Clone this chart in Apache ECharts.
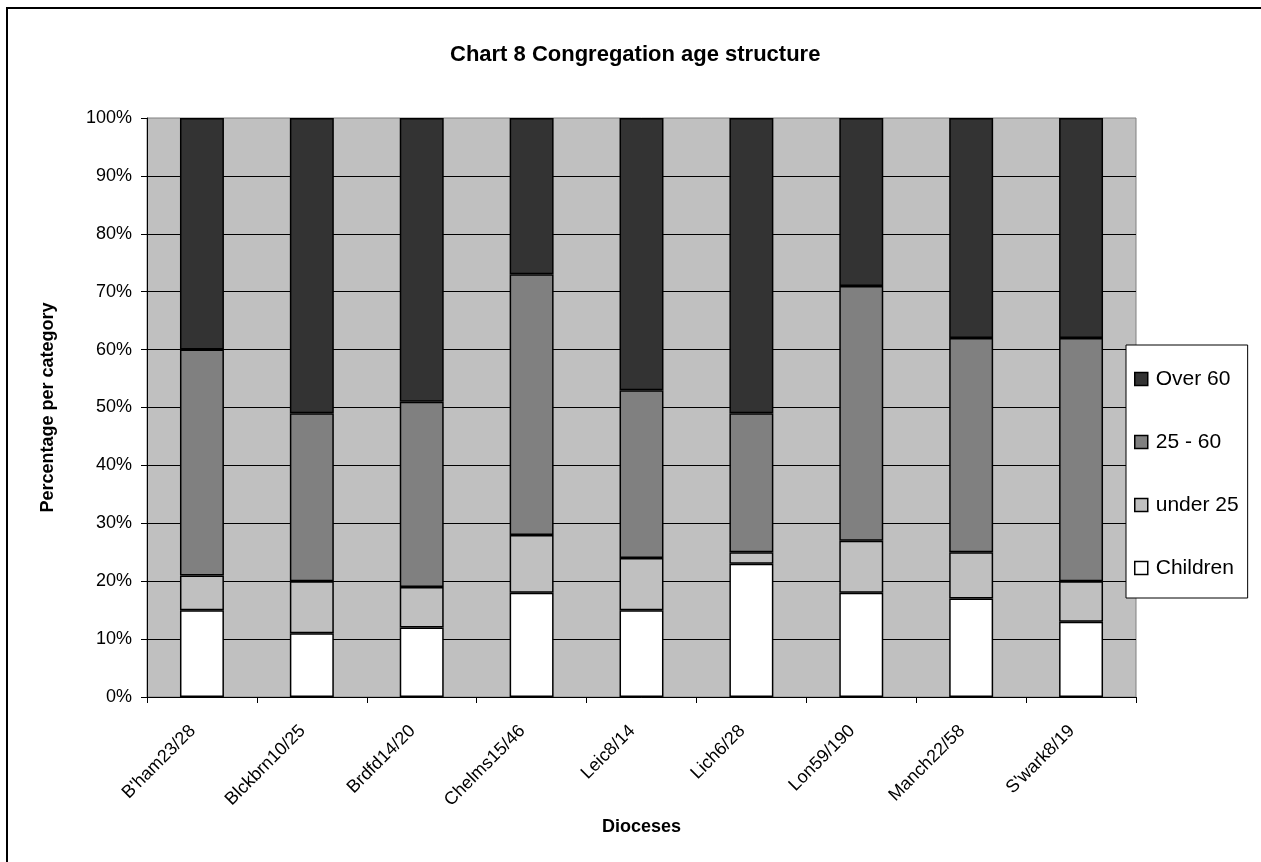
<!DOCTYPE html>
<html>
<head>
<meta charset="utf-8">
<style>
  html, body { margin: 0; padding: 0; background: #fff; }
  #chart { width: 1261px; height: 862px; }
</style>
<script src="https://cdn.jsdelivr.net/npm/echarts@6/dist/echarts.min.js"></script>
</head>
<body>
<div id="chart"></div>
<script>
// ---- data (percent of each diocese's congregation) ----
var categories = ["B'ham23/28", "Blckbrn10/25", "Brdfd14/20", "Chelms15/46", "Leic8/14", "Lich6/28", "Lon59/190", "Manch22/58", "S'wark8/19"];
var children = [15, 11, 12, 18, 15, 23, 18, 17, 13];
var under25  = [6, 9, 7, 10, 9, 2, 9, 8, 7];
var age25to60 = [39, 29, 32, 45, 29, 24, 44, 37, 42];
var over60   = [40, 51, 49, 27, 47, 51, 29, 38, 38];
var yTicks = [0, 10, 20, 30, 40, 50, 60, 70, 80, 90, 100];

var FONT = "'Liberation Sans', Arial, sans-serif";
var chart = echarts.init(document.getElementById('chart'), null, { renderer: 'canvas' });

function mk(name, data, color) {
  return {
    name: name,
    type: 'bar',
    stack: 'total',
    barWidth: '40%',
    data: data,
    itemStyle: { color: color, borderColor: '#000', borderWidth: 1.5 },
    emphasis: { disabled: true },
    animation: false
  };
}

var option = {
  animation: false,
  backgroundColor: '#fff',
  textStyle: { fontFamily: FONT, color: '#000' },
  title: {
    text: 'Chart 8 Congregation age structure',
    left: 450,
    top: 44,
    padding: 0,
    textStyle: { fontFamily: FONT, fontSize: 22, fontWeight: 'bold', color: '#000' }
  },
  graphic: [{
    type: 'rect',
    shape: { x: 7, y: 8, width: 1400, height: 1000 },
    style: { fill: 'none', stroke: '#000', lineWidth: 2 },
    silent: true,
    z: 100
  }],
  legend: {
    orient: 'vertical',
    left: 1126,
    top: 345,
    data: ['Over 60', '25 - 60', 'under 25', 'Children'],
    itemWidth: 13,
    itemHeight: 13,
    itemGap: 41,
    padding: [23, 9, 19, 8],
    backgroundColor: '#fff',
    borderColor: '#000',
    borderWidth: 1,
    icon: 'rect',
    selectedMode: false,
    itemStyle: { borderWidth: 1.5 },
    textStyle: { fontFamily: FONT, fontSize: 21, lineHeight: 22, color: '#000', padding: [0, 0, 0, 3] }
  },
  grid: {
    left: 147,
    top: 118,
    width: 989,
    height: 579,
    show: true,
    backgroundColor: '#C0C0C0',
    borderColor: '#808080',
    borderWidth: 1
  },
  xAxis: {
    type: 'category',
    data: categories,
    name: 'Dioceses',
    nameLocation: 'middle',
    nameGap: 121,
    nameTextStyle: { fontFamily: FONT, fontSize: 18, fontWeight: 'bold', color: '#000' },
    axisLine: { lineStyle: { color: '#000', width: 1 } },
    axisTick: { show: true, interval: 0, length: 6, lineStyle: { color: '#000' } },
    axisLabel: { interval: 0, rotate: 45, margin: 22, padding: [0, 13, 0, 0], fontFamily: FONT, fontSize: 18, color: '#000' },
    splitLine: { show: false }
  },
  yAxis: {
    type: 'value',
    min: 0,
    max: 100,
    interval: 10,
    name: 'Percentage per category',
    nameLocation: 'middle',
    nameRotate: 90,
    nameGap: 90,
    nameTextStyle: { fontFamily: FONT, fontSize: 18, fontWeight: 'bold', color: '#000' },
    axisLine: { show: true, lineStyle: { color: '#000', width: 1 } },
    axisTick: { show: true, length: 6, lineStyle: { color: '#000' } },
    axisLabel: { formatter: '{value}%', margin: 15, fontFamily: FONT, fontSize: 18, color: '#000' },
    splitLine: { show: true, showMaxLine: false, lineStyle: { color: '#000', width: 1 } }
  },
  series: [
    mk('Children', children, '#FFFFFF'),
    mk('under 25', under25, '#C0C0C0'),
    mk('25 - 60', age25to60, '#808080'),
    mk('Over 60', over60, '#333333')
  ]
};
chart.setOption(option);
</script>
</body>
</html>
